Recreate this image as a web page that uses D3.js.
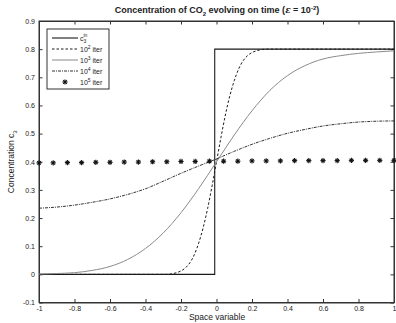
<!DOCTYPE html>
<html>
<head>
<meta charset="utf-8">
<script src="https://cdn.jsdelivr.net/npm/d3@7"></script>
<style>
  body { margin: 0; background: #fff; }
  text { font-family: "Liberation Sans", Arial, sans-serif; fill: #222; }
</style>
</head>
<body>
<div id="chart"></div>
<script>
// step profile c3^in
var stepX = [-1, -0.01, -0.01, 1];
var stepY = [0, 0, 0.8, 0.8];

// 10^2 iterations
var it2X = [-1, -0.3, -0.275, -0.25, -0.225, -0.2, -0.175, -0.15, -0.125, -0.1, -0.075, -0.05, -0.025, 0,
            0.025, 0.05, 0.075, 0.1, 0.125, 0.15, 0.175, 0.2, 0.225, 0.25, 0.275, 0.3, 1];
var it2Y = [0, 0, 0, 0.002, 0.006, 0.012, 0.023, 0.041, 0.070, 0.112, 0.166, 0.234, 0.314, 0.4,
            0.486, 0.566, 0.634, 0.688, 0.730, 0.759, 0.777, 0.788, 0.794, 0.798, 0.8, 0.8, 0.8];

// 10^3 iterations
var it3X = [-1, -0.9, -0.8, -0.7, -0.6, -0.5, -0.4, -0.3, -0.2, -0.1, 0, 0.1, 0.2, 0.3, 0.4, 0.5, 0.6, 0.7, 0.8, 0.9, 1];
var it3Y = [0.001, 0.003, 0.006, 0.014, 0.028, 0.053, 0.092, 0.147, 0.219, 0.305, 0.4,
            0.495, 0.581, 0.653, 0.706, 0.742, 0.765, 0.777, 0.785, 0.790, 0.794];

// 10^4 iterations
var it4X = [-1, -0.9, -0.8, -0.7, -0.6, -0.5, -0.4, -0.3, -0.2, -0.1, 0, 0.1, 0.2, 0.3, 0.4, 0.5, 0.6, 0.7, 0.8, 0.9, 1];
var it4Y = [0.235, 0.239, 0.246, 0.256, 0.268, 0.284, 0.304, 0.331, 0.359, 0.385, 0.41,
            0.437, 0.462, 0.483, 0.501, 0.515, 0.527, 0.535, 0.541, 0.544, 0.545];

// 10^5 iterations (markers)
var it5X = [-1, -0.92, -0.84, -0.76, -0.68, -0.6, -0.52, -0.44, -0.36, -0.28, -0.2, -0.12, -0.04,
            0.04, 0.12, 0.2, 0.28, 0.36, 0.44, 0.52, 0.6, 0.68, 0.76, 0.84, 0.92, 1];
var it5Y = [0.396, 0.396, 0.397, 0.397, 0.398, 0.398, 0.399, 0.399, 0.400, 0.400, 0.401, 0.401, 0.402,
            0.402, 0.402, 0.403, 0.403, 0.403, 0.404, 0.404, 0.404, 0.404, 0.405, 0.405, 0.405, 0.405];

var xTicks = [-1, -0.8, -0.6, -0.4, -0.2, 0, 0.2, 0.4, 0.6, 0.8, 1];
var yTicks = [-0.1, 0, 0.1, 0.2, 0.3, 0.4, 0.5, 0.6, 0.7, 0.8, 0.9];

var W = 396, H = 323;
var pLeft = 39, pRight = 394, pTop = 21, pBottom = 302.5;

var svg = d3.select('#chart').append('svg')
  .attr('width', W).attr('height', H);

var x = d3.scaleLinear().domain([-1, 1]).range([pLeft, pRight]);
var y = d3.scaleLinear().domain([-0.1, 0.9]).range([pBottom, pTop]);

// axes, matlab style: ticks inward on all four sides
var fmt = function(d){ return String(+d.toFixed(1)); };
var tk = 3.5;
svg.append('g').attr('transform', 'translate(0,' + pBottom + ')')
  .call(d3.axisBottom(x).tickValues(xTicks).tickSizeInner(-tk).tickSizeOuter(0).tickPadding(3.5).tickFormat(fmt));
svg.append('g').attr('transform', 'translate(0,' + pTop + ')')
  .call(d3.axisTop(x).tickValues(xTicks).tickSizeInner(-tk).tickSizeOuter(0).tickFormat(''));
svg.append('g').attr('transform', 'translate(' + pLeft + ',0)')
  .call(d3.axisLeft(y).tickValues(yTicks).tickSizeInner(-tk).tickSizeOuter(0).tickPadding(4).tickFormat(fmt));
svg.append('g').attr('transform', 'translate(' + pRight + ',0)')
  .call(d3.axisRight(y).tickValues(yTicks).tickSizeInner(-tk).tickSizeOuter(0).tickFormat(''));
svg.selectAll('.domain').attr('stroke', '#333');
svg.selectAll('.tick line').attr('stroke', '#333');
svg.selectAll('.tick text').style('font-size', '7px').attr('fill', '#333');

svg.append('rect').attr('x', pLeft).attr('y', pTop)
  .attr('width', pRight - pLeft).attr('height', pBottom - pTop)
  .attr('fill', 'none').attr('stroke', '#333').attr('stroke-width', 1);

svg.append('clipPath').attr('id', 'clip').append('rect')
  .attr('x', pLeft).attr('y', pTop).attr('width', pRight - pLeft).attr('height', pBottom - pTop);

var zip = function(xs, ys) { return xs.map(function(v, i){ return [v, ys[i]]; }); };
var line = d3.line().x(function(d){ return x(d[0]); }).y(function(d){ return y(d[1]); });
var smooth = d3.line().curve(d3.curveMonotoneX).x(function(d){ return x(d[0]); }).y(function(d){ return y(d[1]); });

var plot = svg.append('g').attr('clip-path', 'url(#clip)');

var series = [
  {pts: zip(stepX, stepY), gen: line, color: '#1a1a1a', dash: null, w: 1.1},
  {pts: zip(it2X, it2Y), gen: smooth, color: '#1a1a1a', dash: '2.5,2', w: 1},
  {pts: zip(it3X, it3Y), gen: smooth, color: '#8a8a8a', dash: null, w: 1},
  {pts: zip(it4X, it4Y), gen: smooth, color: '#333', dash: '3,1,1,1', w: 1}
];
series.forEach(function(s){
  plot.append('path').attr('d', s.gen(s.pts))
    .attr('fill', 'none').attr('stroke', s.color)
    .attr('stroke-width', s.w).attr('stroke-dasharray', s.dash);
});

// asterisk markers
var star = function(g, r) {
  [[-r, 0, r, 0], [0, -r, 0, r], [-r*0.7, -r*0.7, r*0.7, r*0.7], [-r*0.7, r*0.7, r*0.7, -r*0.7]].forEach(function(l){
    g.append('line').attr('x1', l[0]).attr('y1', l[1]).attr('x2', l[2]).attr('y2', l[3])
      .attr('stroke', '#111').attr('stroke-width', 1.1);
  });
};
zip(it5X, it5Y).forEach(function(d){
  var g = svg.append('g').attr('transform', 'translate(' + x(d[0]) + ',' + y(d[1]) + ')');
  star(g, 2.6);
});

// title and axis labels
var title = svg.append('text').attr('x', 217).attr('y', 13).attr('text-anchor', 'middle')
  .style('font-size', '9px').style('font-weight', 'bold').attr('fill', '#111');
title.append('tspan').text('Concentration of CO');
title.append('tspan').attr('dy', 2.5).style('font-size', '6px').text('2');
title.append('tspan').attr('dy', -2.5).text(' evolving on time (');
title.append('tspan').style('font-style', 'italic').style('font-family', 'DejaVu Serif, serif').text('\u03b5');
title.append('tspan').text(' = 10');
title.append('tspan').attr('dy', -3).style('font-size', '6px').text('-2');
title.append('tspan').attr('dy', 3).text(')');

svg.append('text').attr('x', 217).attr('y', 320).attr('text-anchor', 'middle')
  .style('font-size', '8.5px').text('Space variable');

var yl = svg.append('text').attr('transform', 'translate(14,' + ((pTop + pBottom) / 2) + ') rotate(-90)')
  .attr('text-anchor', 'middle').style('font-size', '8.5px');
yl.append('tspan').text('Concentration c');
yl.append('tspan').attr('dy', 2.5).style('font-size', '6px').text('3');

// legend
var lg = svg.append('g');
lg.append('rect').attr('x', 47).attr('y', 29).attr('width', 62).attr('height', 60)
  .attr('fill', '#fff').attr('stroke', '#333').attr('stroke-width', 1);
var rowsY = [38, 49, 60, 71, 82];
var labels = [['c', '3', 'in'], ['10', '2', ' iter'], ['10', '3', ' iter'], ['10', '4', ' iter'], ['10', '5', ' iter']];
series.forEach(function(s, i){
  lg.append('line').attr('x1', 52).attr('x2', 78).attr('y1', rowsY[i]).attr('y2', rowsY[i])
    .attr('stroke', s.color).attr('stroke-width', s.w).attr('stroke-dasharray', s.dash);
});
star(lg.append('g').attr('transform', 'translate(65,' + rowsY[4] + ')'), 2.6);
labels.forEach(function(l, i){
  var t = lg.append('text').attr('x', 80).attr('y', rowsY[i] + 2.5).style('font-size', '7px');
  if (i === 0) {
    t.append('tspan').text('c');
    t.append('tspan').attr('dy', -3.5).style('font-size', '5px').text('in');
    t.append('tspan').attr('x', 83.5).attr('dy', 5.5).style('font-size', '5px').text('3');
  } else {
    t.append('tspan').text(l[0]);
    t.append('tspan').attr('dy', -3).style('font-size', '5px').text(l[1]);
    t.append('tspan').attr('dy', 3).text(l[2]);
  }
});
</script>
</body>
</html>
